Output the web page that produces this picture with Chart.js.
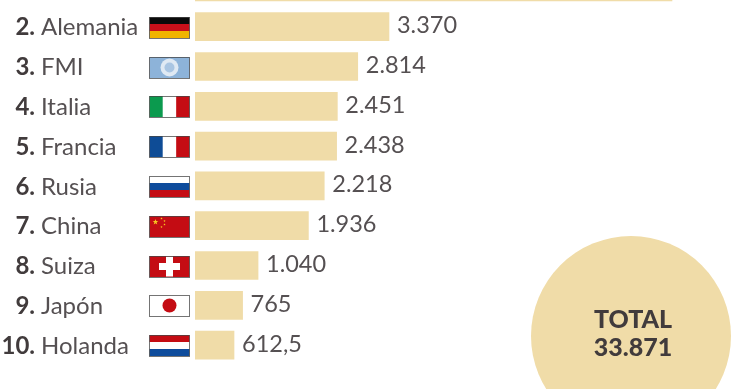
<!DOCTYPE html>
<html>
<head>
<meta charset="utf-8">
<style>
    html, body { margin: 0; padding: 0; background: #fff; overflow: hidden; width: 740px; height: 389px; }
    #chart { position: absolute; left: 0; top: -33px; }
</style>
</head>
<body>
<canvas id="chart" width="740" height="422"></canvas>
<script src="https://cdn.jsdelivr.net/npm/chart.js@4"></script>
<script>
const ranks = ["1.", "2.", "3.", "4.", "5.", "6.", "7.", "8.", "9.", "10."];
const countries = ["Estados Unidos", "Alemania", "FMI", "Italia", "Francia", "Rusia", "China", "Suiza", "Japón", "Holanda"];
const tonnes = [8406, 3370, 2814, 2451, 2438, 2218, 1936, 1040, 765, 612.5];
const tonneLabels = ["8.406", "3.370", "2.814", "2.451", "2.438", "2.218", "1.936", "1.040", "765", "612,5"];
const totalLabel = "TOTAL";
const totalValue = "33.871";

const FONT = "Lato, 'Open Sans', sans-serif";
const BAR_COLOR = "#f0dca8";

function stripesH(ctx, x, y, w, h, colors) {
    colors.forEach((c, i) => {
        ctx.fillStyle = c;
        ctx.fillRect(x, y + h * i / colors.length, w, h / colors.length);
    });
}

function stripesV(ctx, x, y, w, h, colors) {
    colors.forEach((c, i) => {
        ctx.fillStyle = c;
        ctx.fillRect(x + w * i / colors.length, y, w / colors.length, h);
    });
}

function star(ctx, cx, cy, r) {
    ctx.beginPath();
    for (let i = 0; i < 10; i++) {
        let a = -Math.PI / 2 + i * Math.PI / 5;
        let rr = i % 2 ? r * 0.4 : r;
        ctx.lineTo(cx + Math.cos(a) * rr, cy + Math.sin(a) * rr);
    }
    ctx.closePath();
    ctx.fill();
}

// one painter per country, same order as the arrays
const flagPainters = [
    (ctx, x, y, w, h) => stripesH(ctx, x, y, w, h, ["#b22234", "#fff", "#3c3b6e"]),
    (ctx, x, y, w, h) => stripesH(ctx, x, y, w, h, ["#0a0a0a", "#c8101a", "#f0b400"]),
    (ctx, x, y, w, h) => {
        ctx.fillStyle = "#8db3d9";
        ctx.fillRect(x, y, w, h);
        ctx.fillStyle = "#dfe9f3";
        ctx.beginPath();
        ctx.arc(x + w / 2, y + h / 2, 9, 0, Math.PI * 2);
        ctx.fill();
        ctx.fillStyle = "#a9c5e2";
        ctx.beginPath();
        ctx.arc(x + w / 2, y + h / 2, 5, 0, Math.PI * 2);
        ctx.fill();
    },
    (ctx, x, y, w, h) => stripesV(ctx, x, y, w, h, ["#0b9a4e", "#fff", "#c40c13"]),
    (ctx, x, y, w, h) => stripesV(ctx, x, y, w, h, ["#0e4c96", "#fff", "#c40c13"]),
    (ctx, x, y, w, h) => stripesH(ctx, x, y, w, h, ["#fff", "#0e4c9c", "#c40c13"]),
    (ctx, x, y, w, h) => {
        ctx.fillStyle = "#c40c13";
        ctx.fillRect(x, y, w, h);
        ctx.fillStyle = "#f7c520";
        star(ctx, x + 6, y + 6, 3);
        star(ctx, x + 12, y + 2.5, 1.2);
        star(ctx, x + 15, y + 5, 1.2);
        star(ctx, x + 15, y + 8.5, 1.2);
        star(ctx, x + 12, y + 11, 1.2);
    },
    (ctx, x, y, w, h) => {
        ctx.fillStyle = "#c40c13";
        ctx.fillRect(x, y, w, h);
        ctx.fillStyle = "#fff";
        ctx.fillRect(x + w / 2 - 10.5, y + h / 2 - 3.5, 21, 7);
        ctx.fillRect(x + w / 2 - 3.5, y + h / 2 - 10, 7, 20);
    },
    (ctx, x, y, w, h) => {
        ctx.fillStyle = "#fff";
        ctx.fillRect(x, y, w, h);
        ctx.fillStyle = "#c40c13";
        ctx.beginPath();
        ctx.arc(x + w / 2, y + h / 2, 7, 0, Math.PI * 2);
        ctx.fill();
    },
    (ctx, x, y, w, h) => stripesH(ctx, x, y, w, h, ["#c40c13", "#fff", "#0e4c9c"])
];

const rowDecor = {
    id: "rowDecor",
    afterDatasetsDraw(chart) {
        const ctx = chart.ctx;
        const xs = chart.scales.x;
        const ys = chart.scales.y;
        ctx.save();
        ctx.textBaseline = "middle";
        countries.forEach((name, i) => {
            const cy = ys.getPixelForValue(i);

            ctx.textAlign = "right";
            ctx.font = "700 24px " + FONT;
            ctx.fillStyle = "#413b3c";
            ctx.fillText(ranks[i], 35, cy + 1);

            ctx.textAlign = "left";
            ctx.font = "400 24px " + FONT;
            ctx.fillStyle = "#555052";
            ctx.fillText(name, 41, cy + 1);

            ctx.font = "400 23.5px " + FONT;
            ctx.fillText(tonneLabels[i], xs.getPixelForValue(tonnes[i]) + 8, cy - 1);

            // flag
            const fx = 149.5, fy = Math.round(cy - 10), fw = 40, fh = 21;
            flagPainters[i](ctx, fx, fy, fw, fh);
            ctx.strokeStyle = "rgba(70,70,70,0.75)";
            ctx.lineWidth = 1;
            ctx.strokeRect(fx, fy + 0.5, fw, fh);
        });
        ctx.restore();

        // total badge
        ctx.save();
        ctx.fillStyle = BAR_COLOR;
        ctx.beginPath();
        ctx.arc(631, 369, 100, 0, Math.PI * 2);
        ctx.fill();
        ctx.fillStyle = "#413b3c";
        ctx.textAlign = "center";
        ctx.textBaseline = "middle";
        ctx.font = "900 25px " + FONT;
        ctx.fillText(totalLabel, 633, 353);
        ctx.fillText(totalValue, 633, 381);
        ctx.restore();
    }
};

new Chart(document.getElementById("chart"), {
    type: "bar",
    data: {
        labels: countries,
        datasets: [{
            data: tonnes,
            base: -82,
            backgroundColor: BAR_COLOR,
            barThickness: 28,
            borderWidth: 0
        }]
    },
    options: {
        indexAxis: "y",
        responsive: false,
        animation: false,
        layout: { padding: { left: 195, right: 0, top: 0, bottom: 24 } },
        plugins: { legend: { display: false }, tooltip: { enabled: false } },
        scales: {
            x: { display: false, min: -82, max: 9616 },
            y: { display: false }
        }
    },
    plugins: [rowDecor]
});
</script>
</body>
</html>
